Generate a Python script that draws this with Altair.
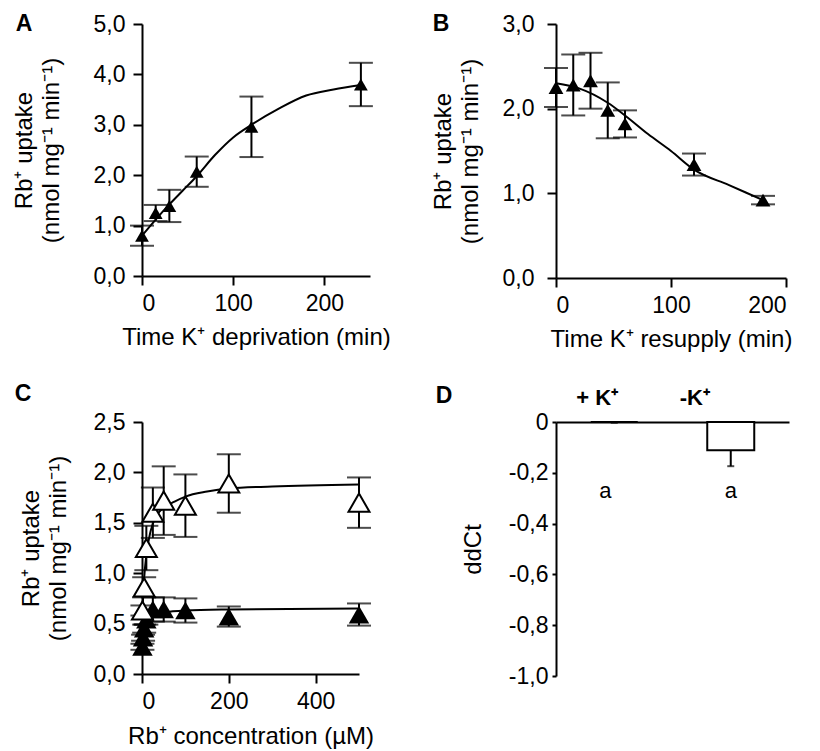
import altair as alt
import pandas as pd

FONT = "Liberation Sans"

panel_letters = ["A", "B", "C", "D"]

# ---- Panel A : K+ deprivation time course ----
a_time = [0, 15, 30, 60, 120, 240]
a_uptake = [0.80, 1.25, 1.39, 2.07, 2.96, 3.80]
a_err = [0.20, 0.16, 0.32, 0.30, 0.60, 0.43]
a_fit_time = [0, 15, 30, 45, 60, 80, 100, 120, 150, 180, 210, 240]
a_fit_uptake = [0.80, 1.12, 1.42, 1.70, 1.98, 2.40, 2.75, 3.00, 3.32, 3.58, 3.70, 3.79]

# ---- Panel B : K+ resupply time course ----
b_time = [0, 15, 30, 45, 60, 120, 180]
b_uptake = [2.25, 2.28, 2.33, 1.98, 1.82, 1.34, 0.92]
b_err = [0.23, 0.36, 0.33, 0.33, 0.16, 0.13, 0.05]
b_fit_time = [0, 20, 45, 60, 80, 100, 120, 150, 180]
b_fit_uptake = [2.30, 2.24, 2.07, 1.92, 1.70, 1.50, 1.28, 1.10, 0.92]

# ---- Panel C : concentration dependence ----
c_open_conc = [1, 5, 10, 25, 50, 100, 200, 500]
c_open_uptake = [0.63, 0.86, 1.25, 1.60, 1.72, 1.67, 1.89, 1.70]
c_open_err = [0.05, 0.10, 0.22, 0.25, 0.34, 0.31, 0.29, 0.25]
c_open_fit_conc = [1, 5, 10, 20, 35, 50, 75, 100, 150, 200, 300, 500]
c_open_fit_uptake = [0.62, 0.95, 1.18, 1.42, 1.58, 1.65, 1.71, 1.76, 1.81, 1.84, 1.86, 1.88]

c_fill_conc = [1, 2.5, 5, 10, 25, 50, 100, 200, 500]
c_fill_uptake = [0.27, 0.36, 0.45, 0.54, 0.64, 0.64, 0.63, 0.57, 0.59]
c_fill_err = [0.03, 0.03, 0.04, 0.05, 0.12, 0.12, 0.12, 0.10, 0.11]
c_fill_fit_conc = [1, 5, 10, 25, 50, 100, 200, 500]
c_fill_fit_uptake = [0.30, 0.45, 0.52, 0.58, 0.61, 0.63, 0.64, 0.65]

# ---- Panel D : ddCt ----
d_conditions = ["+ K\u207a", "-K\u207a"]
d_ddct = [0.0, -0.111]
d_err = [0.003, 0.063]
d_letters = ["a", "a"]

Y_TITLE = ["Rb\u207a uptake", "(nmol mg\u207b\u00b9 min\u207b\u00b9)"]
COMMA = "replace(format(datum.value, '.1f'), '.', ',')"


def xy_encodings(xdom, xticks, xtitle, xtitle_pad, ydom, yticks, ylabel_pad, ytitle_pad):
    xaxis = alt.Axis(values=xticks, title=xtitle, titlePadding=xtitle_pad, format="d",
                     labelPadding=7)
    yaxis = alt.Axis(values=yticks, title=Y_TITLE, titlePadding=ytitle_pad,
                     labelPadding=ylabel_pad, labelExpr=COMMA, titleLineHeight=27)
    xs = alt.Scale(domain=xdom, nice=False, zero=False)
    ys = alt.Scale(domain=ydom, nice=False)

    def X(f):
        return alt.X(f + ":Q", scale=xs, axis=xaxis)

    def Y(f):
        return alt.Y(f + ":Q", scale=ys, axis=yaxis)

    return X, Y


def series(x, v, e, X, Y, size, open_marker=False):
    df = pd.DataFrame({"x": x, "v": v, "e": e})
    base = alt.Chart(df).transform_calculate(lo="datum.v - datum.e", hi="datum.v + datum.e")
    bars = base.mark_rule(color="black", strokeWidth=2).encode(x=X("x"), y=Y("lo"), y2="hi:Q")
    caps = base.transform_fold(["lo", "hi"], as_=["k", "cap"]).mark_tick(
        orient="horizontal", size=24, thickness=2, color="black"
    ).encode(x=X("x"), y=Y("cap"))
    if open_marker:
        pts = base.mark_point(shape="triangle-up", filled=True, fill="white", stroke="black",
                              strokeWidth=2, size=size, opacity=1)
    else:
        pts = base.mark_point(shape="triangle-up", filled=True, color="black", size=size, opacity=1)
    pts = pts.encode(x=X("x"), y=Y("v"))
    return [bars, caps, pts]


def fit_line(x, v, X, Y):
    df = pd.DataFrame({"x": x, "v": v})
    return alt.Chart(df).mark_line(color="black", strokeWidth=2, interpolate="monotone").encode(
        x=X("x"), y=Y("v"))


def letter_mark(letter, dx, dy):
    return alt.Chart(pd.DataFrame({"letter": [letter]})).mark_text(
        font=FONT, fontSize=23, fontWeight="bold", align="center", baseline="middle", color="black"
    ).encode(text="letter:N", x=alt.value(dx), y=alt.value(dy))


# Panel A
XA, YA = xy_encodings([0, 250], [0, 100, 200], "Time K\u207a deprivation (min)", 10,
                      [0, 5], [0, 1, 2, 3, 4, 5], 8, 30)
panel_a = alt.layer(
    fit_line(a_fit_time, a_fit_uptake, XA, YA),
    *series(a_time, a_uptake, a_err, XA, YA, 190),
    letter_mark(panel_letters[0], -118, 0),
).properties(width=228, height=252)

# Panel B
XB, YB = xy_encodings([0, 200], [0, 100, 200], "Time K\u207a resupply (min)", 10,
                      [0, 3], [0, 1, 2, 3], 13, 20)
panel_b = alt.layer(
    fit_line(b_fit_time, b_fit_uptake, XB, YB),
    *series(b_time, b_uptake, b_err, XB, YB, 220),
    letter_mark(panel_letters[1], -115, 0),
).properties(width=230, height=254)

# Panel C
XC, YC = xy_encodings([0, 500], [0, 200, 400], "Rb\u207a concentration (\u00b5M)", 11,
                      [0, 2.5], [0, 0.5, 1.0, 1.5, 2.0, 2.5], 8, 23)
panel_c = alt.layer(
    fit_line(c_open_fit_conc, c_open_fit_uptake, XC, YC),
    fit_line(c_fill_fit_conc, c_fill_fit_uptake, XC, YC),
    *series(c_fill_conc, c_fill_uptake, c_fill_err, XC, YC, 420),
    *series(c_open_conc, c_open_uptake, c_open_err, XC, YC, 440, open_marker=True),
    letter_mark(panel_letters[2], -119, -28),
).properties(width=217, height=252)

# Panel D
d_df = pd.DataFrame({"cond": d_conditions, "ddct": d_ddct, "err": d_err, "sig": d_letters})
d_xaxis = alt.Axis(orient="top", title=None, labelAngle=0, labelFontWeight="bold",
                   labelFontSize=22, ticks=False, labelPadding=13,
                   labelOffset={"condition": {"test": "datum.value == '+ K\u207a'", "value": -17},
                                "value": -36})
d_yaxis = alt.Axis(values=[-1.0, -0.8, -0.6, -0.4, -0.2, 0.0], title="ddCt", titlePadding=23,
                   tickSize=4, labelPadding=4,
                   labelExpr="datum.value == 0 ? '0' : replace(" + COMMA + ", '\u2212', '-')")
DX = alt.X("cond:N", sort=d_conditions, scale=alt.Scale(paddingInner=0, paddingOuter=0), axis=d_xaxis)
DYS = alt.Scale(domain=[-1, 0], nice=False)


def DY(f):
    return alt.Y(f + ":Q", scale=DYS, axis=d_yaxis)


d_base = alt.Chart(d_df).transform_calculate(lo="datum.ddct - datum.err")
d_bar = d_base.mark_bar(size=47, fill="white", stroke="black", strokeWidth=2).encode(x=DX, y=DY("ddct"))
d_rule = d_base.mark_rule(color="black", strokeWidth=2).encode(x=DX, y=DY("ddct"), y2="lo:Q")
d_cap = d_base.mark_tick(orient="horizontal", size=7, thickness=2, color="black").encode(x=DX, y=DY("lo"))
d_sig1 = d_base.transform_filter(alt.datum.cond == d_conditions[0]).mark_text(
    font=FONT, fontSize=22, color="black", baseline="middle", dx=-9
).encode(x=DX, y=alt.datum(-0.27), text="sig:N")
d_sig2 = d_base.transform_filter(alt.datum.cond == d_conditions[1]).mark_text(
    font=FONT, fontSize=22, color="black", baseline="middle"
).encode(x=DX, y=alt.datum(-0.27), text="sig:N")

panel_d = alt.layer(
    d_bar, d_rule, d_cap, d_sig1, d_sig2,
    letter_mark(panel_letters[3], -112, -26),
).properties(width=233, height=254)

chart = alt.concat(
    panel_a, panel_b, panel_c, panel_d, columns=2, spacing={"row": 32, "column": 40}
).properties(
    padding={"left": 4, "top": 5, "right": 5, "bottom": 2}
).configure_view(stroke=None).configure_axis(
    grid=False, domainColor="black", domainWidth=2, tickColor="black", tickWidth=2, tickSize=9,
    labelFont=FONT, labelFontSize=23, labelColor="black",
    titleFont=FONT, titleFontSize=24, titleFontWeight="normal", titleColor="black",
).configure_text(font=FONT)

chart.save("out.html", embed_options={"renderer": "svg", "actions": False})
